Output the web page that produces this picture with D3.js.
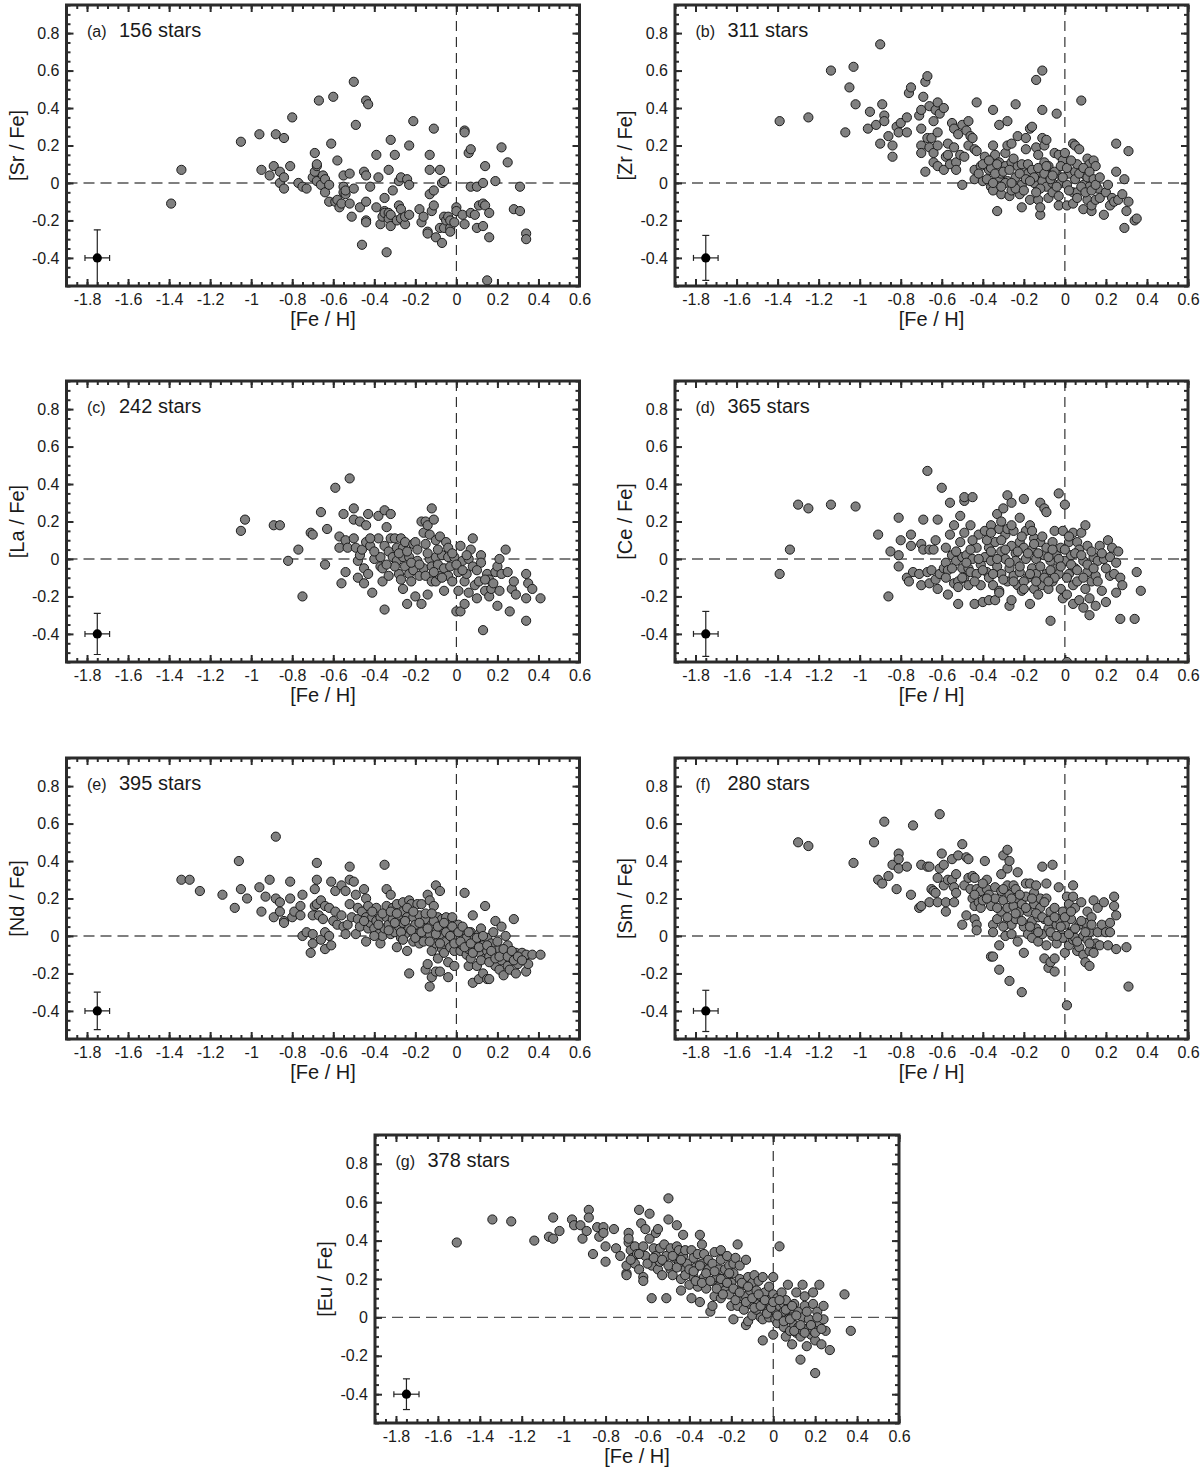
<!DOCTYPE html>
<html><head><meta charset="utf-8">
<script src="https://cdn.jsdelivr.net/npm/d3@7"></script>
<style>
body{margin:0;background:#fff;}
text{font-family:"Liberation Sans",Arial,Helvetica,sans-serif;fill:#1a1a1a;}
</style></head><body>
<script>
// ---------------- data ----------------
const xTickValues = [-1.8,-1.6,-1.4,-1.2,-1,-0.8,-0.6,-0.4,-0.2,0,0.2,0.4,0.6];
const yTickValues = [-0.4,-0.2,0,0.2,0.4,0.6,0.8];
const panelLetters = ["a","b","c","d","e","f","g"];
const elements = ["Sr","Zr","La","Ce","Nd","Sm","Eu"];
const starCounts = [156,311,242,365,395,280,378];
const errX = [0.06,0.06,0.06,0.06,0.06,0.06,0.06];
const errY = [0.15,0.12,0.11,0.12,0.10,0.11,0.08];

const srData = [[-1.39,-0.11],[-1.34,0.07],[-1.05,0.22],[-0.96,0.26],[-0.95,0.07],[-0.91,0.04],[-0.89,0.09],[-0.88,0.26],[-0.86,0.06],[-0.84,0.24],[-0.86,0.0],[-0.84,0.03],[-0.84,-0.03],[-0.81,0.09],[-0.80,0.35],[-0.77,0.0],[-0.75,-0.02],[-0.73,-0.03],[-0.70,0.03],[-0.69,0.16],[-0.69,0.06],[-0.68,0.09],[-0.68,0.10],[-0.67,0.44],[-0.68,0.01],[-0.66,-0.01],[-0.65,0.04],[-0.64,0.02],[-0.64,-0.05],[-0.62,-0.01],[-0.62,-0.10],[-0.61,0.21],[-0.60,0.46],[-0.59,-0.10],[-0.58,0.12],[-0.58,-0.09],[-0.57,-0.13],[-0.56,-0.11],[-0.55,0.04],[-0.55,-0.02],[-0.55,-0.05],[-0.54,-0.06],[-0.54,-0.04],[-0.52,0.05],[-0.52,-0.11],[-0.51,-0.18],[-0.50,0.54],[-0.50,-0.03],[-0.49,0.31],[-0.47,-0.13],[-0.46,-0.33],[-0.45,0.06],[-0.44,0.44],[-0.44,0.04],[-0.44,-0.10],[-0.44,-0.20],[-0.44,-0.21],[-0.43,0.42],[-0.42,-0.02],[-0.39,0.15],[-0.39,-0.13],[-0.38,0.03],[-0.37,-0.22],[-0.36,-0.18],[-0.35,-0.08],[-0.35,-0.15],[-0.34,-0.37],[-0.35,-0.16],[-0.33,0.07],[-0.33,-0.16],[-0.33,-0.19],[-0.32,0.23],[-0.32,-0.23],[-0.32,-0.17],[-0.31,-0.04],[-0.30,0.15],[-0.29,-0.20],[-0.28,0.01],[-0.28,-0.12],[-0.27,0.03],[-0.27,-0.14],[-0.27,-0.19],[-0.25,-0.22],[-0.25,-0.18],[-0.24,0.02],[-0.23,0.20],[-0.23,-0.01],[-0.23,-0.17],[-0.21,0.33],[-0.18,-0.14],[-0.17,-0.21],[-0.16,-0.18],[-0.14,-0.26],[-0.14,-0.27],[-0.13,0.15],[-0.13,0.07],[-0.13,-0.06],[-0.12,-0.15],[-0.11,0.29],[-0.11,-0.04],[-0.11,-0.12],[-0.10,-0.29],[-0.08,-0.24],[-0.08,0.07],[-0.07,-0.32],[-0.07,0.0],[-0.06,-0.18],[-0.06,0.01],[-0.06,-0.24],[-0.05,-0.20],[-0.04,-0.18],[-0.03,-0.24],[-0.03,-0.26],[-0.03,-0.20],[-0.01,-0.21],[0.0,-0.13],[0.0,-0.15],[0.03,-0.17],[0.04,0.28],[0.04,0.27],[0.04,-0.22],[0.06,0.16],[0.07,0.18],[0.07,-0.02],[0.07,-0.16],[0.10,-0.02],[0.09,-0.17],[0.10,-0.24],[0.11,-0.12],[0.13,-0.11],[0.13,0.0],[0.13,-0.23],[0.14,0.09],[0.14,-0.12],[0.15,-0.52],[0.16,-0.16],[0.16,-0.29],[0.19,0.01],[0.22,0.19],[0.25,0.11],[0.28,-0.14],[0.31,-0.02],[0.31,-0.15],[0.34,-0.27],[0.34,-0.30]];

const zrData = [[-1.39,0.33],[-1.25,0.35],[-1.14,0.60],[-1.07,0.27],[-1.05,0.51],[-1.03,0.62],[-1.02,0.42],[-0.96,0.29],[-0.95,0.38],[-0.92,0.31],[-0.90,0.74],[-0.90,0.21],[-0.89,0.42],[-0.88,0.36],[-0.88,0.33],[-0.86,0.25],[-0.84,0.20],[-0.84,0.14],[-0.82,0.30],[-0.81,0.27],[-0.80,0.32],[-0.77,0.35],[-0.77,0.27],[-0.76,0.48],[-0.75,0.51],[-0.71,0.36],[-0.70,0.39],[-0.70,0.29],[-0.70,0.20],[-0.70,0.16],[-0.69,0.46],[-0.68,0.54],[-0.68,0.06],[-0.67,0.57],[-0.66,0.41],[-0.67,0.24],[-0.65,0.24],[-0.66,0.19],[-0.64,0.33],[-0.64,0.16],[-0.64,0.11],[-0.63,0.39],[-0.62,0.43],[-0.62,0.27],[-0.62,0.20],[-0.62,0.09],[-0.61,0.37],[-0.59,0.40],[-0.59,0.07],[-0.58,0.14],[-0.57,0.21],[-0.57,0.15],[-0.56,0.10],[-0.55,0.32],[-0.54,0.29],[-0.54,0.19],[-0.53,0.11],[-0.53,0.07],[-0.52,0.26],[-0.51,0.15],[-0.50,0.31],[-0.50,-0.01],[-0.49,0.14],[-0.48,0.28],[-0.47,0.33],[-0.46,0.25],[-0.47,0.20],[-0.45,0.24],[-0.44,0.18],[-0.44,0.07],[-0.44,0.02],[-0.43,0.43],[-0.43,0.17],[-0.41,0.09],[-0.40,0.01],[-0.39,0.14],[-0.37,0.07],[-0.36,0.08],[-0.36,-0.02],[-0.35,0.39],[-0.35,0.20],[-0.35,-0.04],[-0.34,0.15],[-0.33,-0.15],[-0.32,0.31],[-0.32,0.11],[-0.32,0.03],[-0.31,0.05],[-0.31,-0.06],[-0.29,0.16],[-0.29,0.09],[-0.28,0.20],[-0.28,0.33],[-0.28,0.01],[-0.27,-0.07],[-0.26,0.11],[-0.26,0.21],[-0.26,-0.04],[-0.24,0.42],[-0.24,0.03],[-0.23,0.09],[-0.23,0.25],[-0.22,-0.06],[-0.21,-0.01],[-0.21,-0.13],[-0.20,0.06],[-0.19,0.24],[-0.19,0.18],[-0.18,0.05],[-0.17,-0.09],[-0.17,0.29],[-0.16,0.30],[-0.15,0.00],[-0.14,0.55],[-0.14,0.19],[-0.14,0.05],[-0.13,-0.09],[-0.13,0.15],[-0.12,-0.17],[-0.12,-0.13],[-0.11,0.01],[-0.11,0.39],[-0.11,0.60],[-0.11,0.24],[-0.10,0.11],[-0.10,0.20],[-0.09,0.23],[-0.09,-0.02],[-0.08,-0.08],[-0.08,0.04],[-0.08,0.09],[-0.06,0.00],[-0.06,-0.05],[-0.05,0.16],[-0.04,0.37],[-0.04,0.05],[-0.03,-0.12],[-0.03,-0.07],[-0.03,0.15],[-0.02,0.00],[-0.01,0.12],[0.0,0.16],[0.01,-0.01],[0.01,-0.12],[0.02,0.05],[0.04,-0.11],[0.04,0.21],[0.04,-0.05],[0.05,0.20],[0.05,0.06],[0.06,0.10],[0.07,0.18],[0.08,0.44],[0.06,-0.05],[0.09,-0.14],[0.09,-0.01],[0.10,0.04],[0.11,-0.09],[0.11,0.13],[0.12,0.10],[0.12,-0.02],[0.13,-0.15],[0.13,-0.12],[0.14,0.12],[0.15,0.09],[0.15,-0.09],[0.16,-0.03],[0.17,-0.08],[0.19,-0.17],[0.20,-0.05],[0.21,-0.01],[0.22,-0.12],[0.23,-0.08],[0.24,-0.10],[0.25,0.21],[0.25,0.06],[0.26,-0.09],[0.28,-0.06],[0.29,-0.24],[0.29,0.02],[0.30,-0.15],[0.31,-0.10],[0.31,0.17],[0.34,-0.20],[0.35,-0.19],
[-0.42,0.05],[-0.40,0.10],[-0.38,0.02],[-0.37,0.12],[-0.34,0.05],[-0.33,0.10],[-0.30,0.06],[-0.29,0.00],[-0.27,0.07],[-0.25,0.13],[-0.24,-0.03],[-0.22,0.05],[-0.21,0.10],[-0.19,0.02],[-0.18,0.10],[-0.16,0.07],[-0.15,0.03],[-0.13,0.08],[-0.12,-0.03],[-0.10,0.05],[-0.09,0.09],[-0.07,0.02],[-0.05,0.06],[-0.04,-0.02],[-0.02,0.09],[-0.01,0.03],[0.01,0.08],[0.02,-0.04],[0.03,0.12],[0.05,0.02],[0.06,-0.08],[0.07,0.05],[0.08,-0.02],[0.09,0.08],[0.10,-0.05],[0.11,0.03],[0.12,0.06],[0.13,-0.04],[0.14,0.02],[0.15,-0.01],[0.17,0.03],[-0.35,0.00],[-0.31,-0.02],[-0.26,0.00],[-0.20,-0.04],[-0.17,0.01],[-0.14,-0.05],[-0.06,0.04]];

const laData = [[-1.05,0.15],[-1.03,0.21],[-0.89,0.18],[-0.86,0.18],[-0.82,-0.01],[-0.77,0.05],[-0.75,-0.20],[-0.71,0.14],[-0.70,0.13],[-0.66,0.25],[-0.64,-0.03],[-0.63,0.16],[-0.59,0.38],[-0.57,0.12],[-0.57,0.06],[-0.56,-0.13],[-0.55,0.24],[-0.54,-0.07],[-0.54,0.10],[-0.53,0.06],[-0.52,0.43],[-0.50,0.27],[-0.50,0.21],[-0.50,0.11],[-0.49,0.06],[-0.48,-0.01],[-0.48,-0.10],[-0.47,0.20],[-0.47,0.02],[-0.46,0.05],[-0.45,-0.05],[-0.45,-0.13],[-0.44,0.18],[-0.44,0.09],[-0.43,-0.08],[-0.43,0.24],[-0.42,0.07],[-0.41,-0.18],[-0.40,0.00],[-0.38,0.23],[-0.38,0.11],[-0.37,0.01],[-0.37,-0.04],[-0.36,-0.12],[-0.35,-0.27],[-0.35,0.26],[-0.34,0.17],[-0.35,0.07],[-0.36,-0.05],[-0.33,0.04],[-0.32,0.11],[-0.32,0.24],[-0.33,-0.09],[-0.31,0.01],[-0.30,0.11],[-0.29,0.06],[-0.29,-0.01],[-0.28,-0.08],[-0.27,0.11],[-0.27,-0.11],[-0.26,0.01],[-0.26,0.06],[-0.26,-0.16],[-0.25,0.09],[-0.25,-0.04],[-0.24,-0.24],[-0.23,-0.08],[-0.23,0.01],[-0.22,-0.12],[-0.21,0.08],[-0.21,-0.06],[-0.20,0.09],[-0.20,-0.20],[-0.19,-0.01],[-0.18,-0.09],[-0.17,0.20],[-0.17,-0.24],[-0.16,-0.05],[-0.16,0.14],[-0.15,0.20],[-0.15,0.08],[-0.15,-0.09],[-0.14,-0.19],[-0.14,0.18],[-0.13,0.13],[-0.13,0.00],[-0.12,0.27],[-0.12,-0.12],[-0.12,-0.04],[-0.11,0.21],[-0.10,0.01],[-0.10,0.10],[-0.10,-0.12],[-0.09,-0.03],[-0.08,-0.09],[-0.08,0.12],[-0.07,0.02],[-0.06,-0.05],[-0.06,-0.17],[-0.05,0.09],[-0.04,0.01],[-0.04,-0.09],[-0.04,0.06],[-0.03,-0.04],[-0.02,-0.12],[-0.01,0.01],[0.0,-0.28],[0.01,-0.17],[0.01,-0.07],[0.02,0.07],[0.02,-0.28],[0.03,-0.01],[0.04,-0.12],[0.04,-0.24],[0.05,-0.08],[0.06,0.00],[0.06,-0.18],[0.07,0.05],[0.08,0.11],[0.08,-0.04],[0.09,-0.14],[0.10,-0.21],[0.11,-0.12],[0.12,0.02],[0.12,-0.02],[0.13,-0.38],[0.14,-0.17],[0.15,-0.08],[0.16,-0.20],[0.16,-0.11],[0.17,-0.16],[0.19,-0.07],[0.20,-0.04],[0.20,-0.25],[0.21,-0.17],[0.21,0.00],[0.22,-0.08],[0.24,0.05],[0.25,-0.07],[0.26,-0.28],[0.27,-0.16],[0.28,-0.12],[0.29,-0.19],[0.34,-0.08],[0.34,-0.21],[0.34,-0.33],[0.35,-0.13],[0.37,-0.16],[0.41,-0.21],
[-0.30,-0.04],[-0.28,0.03],[-0.24,0.04],[-0.22,-0.02],[-0.19,0.05],[-0.18,-0.03],[-0.14,0.03],[-0.11,-0.07],[-0.09,0.05],[-0.07,-0.10],[-0.02,0.03],[0.00,-0.03],[0.03,-0.06],[0.05,0.02],[0.10,-0.06],[0.14,-0.11],[0.18,-0.13],[-0.40,0.04],[-0.42,0.11],[-0.34,-0.03]];

const ceData = [[-1.39,-0.08],[-1.34,0.05],[-1.30,0.29],[-1.25,0.27],[-1.14,0.29],[-1.02,0.28],[-0.91,0.13],[-0.86,-0.20],[-0.85,0.04],[-0.81,0.22],[-0.81,0.02],[-0.81,-0.04],[-0.80,0.10],[-0.77,-0.10],[-0.76,-0.12],[-0.75,0.07],[-0.75,0.13],[-0.74,-0.07],[-0.71,-0.08],[-0.70,-0.14],[-0.70,0.08],[-0.69,0.05],[-0.69,0.21],[-0.67,0.47],[-0.67,-0.07],[-0.66,0.05],[-0.65,-0.06],[-0.66,-0.13],[-0.64,0.05],[-0.63,0.10],[-0.63,-0.11],[-0.62,0.21],[-0.62,-0.16],[-0.61,-0.08],[-0.60,0.38],[-0.59,-0.05],[-0.58,0.06],[-0.58,-0.02],[-0.57,-0.19],[-0.57,-0.06],[-0.56,0.30],[-0.56,0.13],[-0.55,0.02],[-0.54,-0.13],[-0.54,0.18],[-0.53,-0.01],[-0.52,-0.12],[-0.52,-0.24],[-0.51,0.09],[-0.51,0.23],[-0.50,0.01],[-0.50,-0.05],[-0.49,0.14],[-0.49,0.31],[-0.49,0.33],[-0.49,-0.10],[-0.48,0.02],[-0.47,-0.05],[-0.47,-0.14],[-0.46,0.18],[-0.46,-0.07],[-0.45,0.33],[-0.45,0.00],[-0.44,-0.24],[-0.43,-0.08],[-0.43,0.06],[-0.42,0.13],[-0.41,-0.03],[-0.41,-0.14],[-0.40,-0.23],[-0.39,0.01],[-0.39,0.15],[-0.38,-0.07],[-0.37,-0.10],[-0.37,-0.22],[-0.37,0.06],[-0.36,0.18],[-0.36,-0.01],[-0.35,-0.14],[-0.34,-0.22],[-0.34,0.09],[-0.33,0.24],[-0.33,-0.04],[-0.32,0.16],[-0.32,-0.17],[-0.31,0.04],[-0.31,0.20],[-0.31,-0.08],[-0.30,0.27],[-0.29,0.13],[-0.29,0.00],[-0.28,-0.12],[-0.28,0.16],[-0.28,0.34],[-0.27,-0.25],[-0.27,-0.05],[-0.26,0.07],[-0.26,0.30],[-0.26,-0.22],[-0.25,-0.09],[-0.25,0.15],[-0.24,0.03],[-0.24,-0.01],[-0.23,-0.14],[-0.22,0.22],[-0.22,0.09],[-0.22,-0.07],[-0.21,-0.17],[-0.20,0.32],[-0.20,0.06],[-0.19,0.15],[-0.19,0.00],[-0.18,-0.10],[-0.17,-0.24],[-0.17,0.18],[-0.16,-0.05],[-0.16,0.05],[-0.15,-0.16],[-0.15,0.11],[-0.14,-0.08],[-0.14,0.00],[-0.13,-0.19],[-0.12,0.09],[-0.12,0.30],[-0.11,-0.14],[-0.10,0.27],[-0.10,0.02],[-0.09,0.25],[-0.09,-0.08],[-0.09,0.06],[-0.08,-0.16],[-0.07,-0.33],[-0.07,-0.01],[-0.06,0.09],[-0.06,-0.12],[-0.05,0.15],[-0.04,-0.05],[-0.04,0.02],[-0.03,0.35],[-0.03,-0.08],[-0.02,0.06],[-0.02,-0.16],[-0.01,-0.21],[-0.01,0.15],[0.0,0.29],[0.0,-0.01],[0.01,-0.19],[0.01,-0.55],[0.02,-0.08],[0.02,0.09],[0.03,0.02],[0.04,-0.24],[0.04,-0.14],[0.04,0.14],[0.05,-0.05],[0.06,0.09],[0.06,-0.12],[0.07,-0.22],[0.07,0.05],[0.08,0.14],[0.09,-0.01],[0.09,-0.26],[0.10,-0.16],[0.10,0.18],[0.11,-0.07],[0.11,0.07],[0.12,-0.21],[0.12,-0.30],[0.13,-0.12],[0.14,0.01],[0.15,-0.09],[0.15,-0.25],[0.16,-0.01],[0.17,0.07],[0.18,-0.17],[0.19,0.00],[0.20,-0.23],[0.21,0.10],[0.22,-0.09],[0.22,0.01],[0.23,0.06],[0.24,-0.08],[0.25,-0.18],[0.25,-0.02],[0.26,0.04],[0.27,-0.32],[0.27,-0.10],[0.28,-0.14],[0.34,-0.32],[0.35,-0.07],[0.37,-0.17],
[-0.58,-0.10],[-0.55,-0.05],[-0.53,0.04],[-0.50,-0.10],[-0.48,-0.02],[-0.46,0.05],[-0.44,-0.12],[-0.42,0.00],[-0.40,-0.06],[-0.38,0.10],[-0.36,0.04],[-0.35,-0.08],[-0.33,0.00],[-0.31,0.10],[-0.30,-0.11],[-0.29,0.05],[-0.27,-0.02],[-0.26,0.18],[-0.25,-0.12],[-0.23,0.04],[-0.22,-0.04],[-0.21,0.12],[-0.20,-0.12],[-0.18,0.03],[-0.17,-0.08],[-0.15,0.08],[-0.14,-0.12],[-0.13,0.03],[-0.12,-0.04],[-0.11,0.12],[-0.10,-0.10],[-0.08,0.01],[-0.07,-0.06],[-0.06,0.05],[-0.05,-0.10],[-0.03,0.00],[-0.02,-0.04],[0.00,0.05],[0.01,-0.10],[0.03,-0.03],[0.05,0.03],[0.06,-0.06],[0.08,0.02],[0.09,-0.10],[0.11,-0.03],[0.13,0.04],[0.14,-0.05],[0.16,-0.12],[0.18,0.03],[0.20,-0.05],[-0.32,-0.18],[-0.20,-0.16],[-0.08,-0.12],[-0.45,0.10],[-0.52,-0.15],[-0.36,0.14],[-0.16,0.15],[0.02,0.12]];

const ndData = [[-1.34,0.30],[-1.30,0.30],[-1.25,0.24],[-1.14,0.22],[-1.08,0.15],[-1.06,0.40],[-1.05,0.25],[-1.02,0.20],[-0.96,0.26],[-0.95,0.13],[-0.93,0.21],[-0.91,0.30],[-0.89,0.10],[-0.88,0.53],[-0.88,0.20],[-0.86,0.18],[-0.86,0.13],[-0.84,0.08],[-0.84,0.07],[-0.81,0.20],[-0.81,0.29],[-0.80,0.10],[-0.79,0.13],[-0.76,0.11],[-0.76,0.16],[-0.75,0.22],[-0.75,0.00],[-0.73,0.02],[-0.71,-0.09],[-0.70,0.01],[-0.70,-0.04],[-0.70,0.11],[-0.69,0.16],[-0.69,0.25],[-0.68,0.17],[-0.68,0.39],[-0.68,0.30],[-0.67,0.11],[-0.66,0.19],[-0.66,-0.02],[-0.65,0.09],[-0.64,0.02],[-0.64,0.16],[-0.64,-0.07],[-0.62,0.15],[-0.62,0.00],[-0.61,-0.05],[-0.61,0.29],[-0.60,0.08],[-0.59,0.24],[-0.59,0.13],[-0.58,0.06],[-0.56,0.27],[-0.56,0.11],[-0.55,0.05],[-0.54,0.24],[-0.54,0.01],[-0.53,0.06],[-0.52,0.17],[-0.52,0.37],[-0.52,0.30],[-0.51,0.10],[-0.50,0.29],[-0.49,0.22],[-0.49,0.01],[-0.48,0.15],[-0.48,0.09],[-0.47,0.05],[-0.46,0.13],[-0.45,0.25],[-0.44,0.20],[-0.44,-0.03],[-0.44,0.10],[-0.43,0.16],[-0.43,0.04],[-0.42,0.07],[-0.41,0.10],[-0.40,0.04],[-0.39,0.15],[-0.39,0.08],[-0.38,0.01],[-0.37,-0.04],[-0.37,0.10],[-0.36,0.00],[-0.35,0.04],[-0.35,0.38],[-0.34,0.16],[-0.34,0.25],[-0.32,0.22],[-0.34,0.10],[-0.33,0.06],[-0.32,0.01],[-0.31,0.15],[-0.31,0.09],[-0.30,0.02],[-0.29,-0.06],[-0.29,0.17],[-0.28,0.11],[-0.28,0.05],[-0.27,-0.01],[-0.26,0.18],[-0.26,0.07],[-0.26,0.13],[-0.25,0.01],[-0.24,-0.08],[-0.24,0.10],[-0.23,0.19],[-0.23,-0.20],[-0.23,0.04],[-0.22,0.17],[-0.21,-0.03],[-0.21,0.10],[-0.20,0.06],[-0.19,0.17],[-0.19,0.01],[-0.18,-0.04],[-0.18,0.11],[-0.17,0.17],[-0.16,0.04],[-0.16,-0.03],[-0.15,-0.18],[-0.15,0.09],[-0.14,0.22],[-0.14,-0.15],[-0.13,0.01],[-0.13,-0.27],[-0.13,0.19],[-0.12,-0.08],[-0.12,-0.22],[-0.12,0.06],[-0.11,0.16],[-0.10,-0.04],[-0.10,0.27],[-0.10,-0.19],[-0.09,0.10],[-0.09,-0.12],[-0.08,0.24],[-0.08,0.01],[-0.08,-0.19],[-0.07,-0.07],[-0.07,0.09],[-0.06,0.04],[-0.06,-0.09],[-0.05,-0.03],[-0.05,0.10],[-0.04,-0.22],[-0.04,0.01],[-0.04,-0.14],[-0.03,-0.06],[-0.03,0.06],[-0.02,0.10],[-0.02,-0.01],[-0.01,-0.16],[-0.01,-0.08],[0.0,0.04],[0.01,-0.04],[0.01,0.06],[0.02,-0.08],[0.03,0.01],[0.03,-0.05],[0.04,0.03],[0.04,0.23],[0.05,-0.10],[0.05,-0.01],[0.06,-0.16],[0.06,-0.07],[0.07,0.02],[0.07,-0.12],[0.08,0.11],[0.08,-0.25],[0.09,-0.01],[0.09,-0.08],[0.10,-0.04],[0.10,-0.16],[0.11,-0.23],[0.11,0.01],[0.12,-0.10],[0.12,0.04],[0.13,-0.05],[0.13,-0.20],[0.14,0.16],[0.14,-0.12],[0.15,-0.23],[0.15,-0.01],[0.15,-0.08],[0.16,-0.23],[0.16,-0.11],[0.17,-0.04],[0.18,0.02],[0.19,0.08],[0.19,-0.16],[0.20,-0.10],[0.21,-0.18],[0.21,-0.07],[0.22,0.05],[0.22,-0.13],[0.23,-0.21],[0.24,0.00],[0.24,-0.08],[0.25,-0.16],[0.25,-0.05],[0.26,-0.18],[0.27,-0.12],[0.28,0.09],[0.29,-0.09],[0.29,-0.20],[0.30,-0.15],[0.32,-0.09],[0.34,-0.10],[0.34,-0.19],[0.35,-0.15],[0.37,-0.10],[0.41,-0.10],
[-0.45,0.08],[-0.41,0.13],[-0.38,0.06],[-0.36,0.12],[-0.33,0.03],[-0.32,0.13],[-0.30,0.07],[-0.29,0.12],[-0.27,0.02],[-0.25,0.08],[-0.24,0.15],[-0.22,0.03],[-0.21,0.13],[-0.20,-0.01],[-0.18,0.07],[-0.17,0.02],[-0.15,0.12],[-0.14,0.04],[-0.13,-0.03],[-0.11,0.08],[-0.10,0.01],[-0.09,0.05],[-0.08,-0.04],[-0.06,0.07],[-0.05,0.02],[-0.03,0.00],[-0.02,0.05],[-0.01,-0.04],[0.01,0.02],[0.02,-0.03],[0.03,0.05],[0.04,-0.06],[0.06,0.02],[0.07,-0.04],[0.08,-0.09],[0.10,-0.01],[0.11,-0.06],[0.12,-0.13],[0.13,0.00],[0.15,-0.05],[0.16,-0.14],[0.17,-0.08],[0.19,-0.12],[0.20,-0.03],[0.21,-0.11],[0.23,-0.07],[0.25,-0.11],[0.27,-0.08],[0.28,-0.13],[0.30,-0.11],[0.32,-0.13],[-0.40,0.00],[-0.26,-0.02],[-0.12,0.12]];

const smData = [[-1.30,0.50],[-1.25,0.48],[-1.03,0.39],[-0.93,0.50],[-0.91,0.30],[-0.89,0.28],[-0.88,0.61],[-0.86,0.32],[-0.84,0.38],[-0.82,0.25],[-0.81,0.44],[-0.81,0.41],[-0.81,0.36],[-0.77,0.37],[-0.75,0.22],[-0.74,0.59],[-0.71,0.15],[-0.70,0.16],[-0.70,0.38],[-0.67,0.37],[-0.66,0.18],[-0.66,0.37],[-0.65,0.25],[-0.64,0.24],[-0.63,0.23],[-0.62,0.31],[-0.62,0.18],[-0.61,0.65],[-0.61,0.36],[-0.60,0.44],[-0.59,0.38],[-0.59,0.27],[-0.58,0.13],[-0.58,0.18],[-0.57,0.30],[-0.55,0.30],[-0.55,0.41],[-0.54,0.26],[-0.54,0.18],[-0.53,0.33],[-0.53,0.23],[-0.52,0.43],[-0.50,0.06],[-0.50,0.49],[-0.49,0.27],[-0.48,0.42],[-0.48,0.11],[-0.47,0.41],[-0.47,0.31],[-0.46,0.25],[-0.45,0.32],[-0.45,0.20],[-0.44,0.16],[-0.44,0.31],[-0.44,0.09],[-0.43,0.06],[-0.43,0.03],[-0.43,0.25],[-0.42,0.18],[-0.41,0.24],[-0.41,0.15],[-0.40,0.19],[-0.39,0.40],[-0.38,0.30],[-0.38,0.25],[-0.37,0.22],[-0.36,-0.11],[-0.35,-0.11],[-0.36,0.16],[-0.35,0.06],[-0.35,0.02],[-0.34,0.20],[-0.34,0.26],[-0.33,0.09],[-0.32,-0.05],[-0.32,-0.18],[-0.31,0.13],[-0.31,0.33],[-0.31,0.24],[-0.30,0.43],[-0.30,0.19],[-0.29,0.06],[-0.29,0.00],[-0.28,0.27],[-0.28,0.46],[-0.28,0.36],[-0.28,0.15],[-0.27,-0.24],[-0.27,0.40],[-0.27,0.22],[-0.26,0.06],[-0.26,0.01],[-0.25,0.27],[-0.25,0.16],[-0.24,0.09],[-0.24,0.25],[-0.23,-0.03],[-0.23,0.20],[-0.23,0.34],[-0.22,0.13],[-0.21,-0.30],[-0.21,0.17],[-0.20,-0.09],[-0.20,0.05],[-0.19,0.28],[-0.19,0.21],[-0.18,0.01],[-0.18,0.13],[-0.17,0.28],[-0.16,0.08],[-0.16,-0.01],[-0.15,0.17],[-0.15,0.23],[-0.14,0.04],[-0.14,0.27],[-0.13,0.10],[-0.13,-0.03],[-0.12,0.20],[-0.12,0.15],[-0.11,0.37],[-0.11,0.01],[-0.10,-0.12],[-0.10,0.09],[-0.09,0.20],[-0.09,-0.05],[-0.09,0.28],[-0.08,-0.17],[-0.08,0.04],[-0.07,-0.14],[-0.07,0.13],[-0.06,-0.00],[-0.06,0.38],[-0.05,-0.19],[-0.05,-0.12],[-0.05,0.15],[-0.04,-0.04],[-0.04,0.06],[-0.03,0.26],[-0.03,0.09],[-0.02,0.01],[-0.01,-0.01],[-0.01,0.13],[0.0,0.06],[0.00,-0.09],[0.01,0.21],[0.01,-0.37],[0.02,-0.05],[0.02,0.17],[0.03,0.02],[0.03,0.09],[0.04,-0.02],[0.04,0.27],[0.04,0.21],[0.05,0.15],[0.05,-0.01],[0.06,-0.08],[0.07,0.06],[0.07,-0.06],[0.08,0.18],[0.09,0.00],[0.09,-0.10],[0.10,-0.14],[0.10,0.07],[0.11,-0.02],[0.11,0.13],[0.12,-0.16],[0.12,-0.08],[0.12,0.02],[0.13,0.10],[0.14,0.19],[0.14,-0.09],[0.15,-0.04],[0.16,0.02],[0.16,0.15],[0.17,-0.05],[0.18,0.06],[0.19,0.18],[0.20,0.02],[0.21,-0.05],[0.22,0.07],[0.22,0.02],[0.24,0.21],[0.24,0.16],[0.25,-0.07],[0.25,0.11],[0.30,-0.06],[0.31,-0.27],
[-0.33,0.15],[-0.30,0.25],[-0.28,0.10],[-0.26,0.20],[-0.24,0.12],[-0.22,0.22],[-0.21,0.08],[-0.19,0.15],[-0.17,0.05],[-0.16,0.20],[-0.14,0.12],[-0.13,0.02],[-0.11,0.10],[-0.10,0.18],[-0.08,0.08],[-0.07,0.02],[-0.05,0.10],[-0.04,0.00],[-0.02,0.05],[0.00,0.10],[0.02,0.01],[0.03,0.13],[0.05,0.04],[0.06,-0.03],[0.08,0.08],[0.10,0.02],[0.12,-0.04],[0.13,0.06],[-0.38,0.20],[-0.40,0.28],[-0.44,0.22],[-0.30,0.05]];

const euData = [[-1.51,0.39],[-1.34,0.51],[-1.25,0.50],[-1.14,0.40],[-1.07,0.42],[-1.05,0.41],[-1.05,0.52],[-1.02,0.45],[-0.96,0.51],[-0.95,0.48],[-0.92,0.48],[-0.91,0.41],[-0.89,0.45],[-0.88,0.56],[-0.88,0.52],[-0.86,0.33],[-0.84,0.47],[-0.83,0.42],[-0.81,0.47],[-0.81,0.44],[-0.80,0.37],[-0.80,0.29],[-0.76,0.46],[-0.75,0.36],[-0.73,0.32],[-0.70,0.23],[-0.69,0.39],[-0.69,0.44],[-0.70,0.22],[-0.69,0.41],[-0.70,0.27],[-0.68,0.35],[-0.67,0.31],[-0.66,0.37],[-0.66,0.28],[-0.65,0.33],[-0.64,0.56],[-0.64,0.25],[-0.63,0.49],[-0.62,0.37],[-0.62,0.21],[-0.62,0.19],[-0.61,0.46],[-0.61,0.32],[-0.59,0.54],[-0.59,0.41],[-0.58,0.27],[-0.58,0.10],[-0.57,0.36],[-0.56,0.44],[-0.56,0.32],[-0.55,0.46],[-0.55,0.25],[-0.54,0.36],[-0.54,0.29],[-0.53,0.22],[-0.52,0.38],[-0.51,0.32],[-0.51,0.10],[-0.50,0.62],[-0.50,0.51],[-0.49,0.25],[-0.49,0.36],[-0.48,0.22],[-0.47,0.31],[-0.46,0.37],[-0.46,0.48],[-0.45,0.28],[-0.45,0.35],[-0.44,0.20],[-0.44,0.14],[-0.43,0.43],[-0.43,0.32],[-0.42,0.25],[-0.42,0.35],[-0.41,0.28],[-0.40,0.17],[-0.39,0.35],[-0.39,0.10],[-0.38,0.31],[-0.38,0.21],[-0.37,0.26],[-0.36,0.16],[-0.36,0.33],[-0.35,0.43],[-0.35,0.08],[-0.34,0.38],[-0.34,0.28],[-0.33,0.21],[-0.33,0.33],[-0.32,0.15],[-0.31,0.25],[-0.31,0.30],[-0.30,0.03],[-0.29,0.19],[-0.29,0.06],[-0.29,0.28],[-0.28,0.11],[-0.28,0.34],[-0.27,0.21],[-0.26,0.25],[-0.26,0.16],[-0.25,0.30],[-0.25,0.10],[-0.25,0.35],[-0.24,0.20],[-0.23,0.25],[-0.23,0.14],[-0.22,0.32],[-0.22,0.21],[-0.21,0.27],[-0.21,0.12],[-0.20,0.06],[-0.20,0.18],[-0.19,0.28],[-0.19,-0.01],[-0.19,0.23],[-0.18,0.31],[-0.17,0.38],[-0.17,0.14],[-0.17,0.06],[-0.16,0.20],[-0.16,0.27],[-0.15,0.11],[-0.14,0.17],[-0.14,0.04],[-0.13,-0.04],[-0.13,0.30],[-0.13,0.11],[-0.12,-0.02],[-0.12,0.21],[-0.11,0.07],[-0.11,0.14],[-0.10,0.01],[-0.10,0.18],[-0.09,0.10],[-0.09,0.22],[-0.08,0.04],[-0.08,0.14],[-0.07,0.07],[-0.07,0.19],[-0.06,0.00],[-0.06,0.11],[-0.05,-0.01],[-0.05,-0.12],[-0.05,0.21],[-0.04,0.06],[-0.04,0.13],[-0.03,0.03],[-0.02,0.09],[-0.02,0.16],[-0.02,0.00],[-0.01,0.07],[0.00,0.12],[0.00,0.21],[0.00,-0.09],[0.01,0.04],[0.01,-0.01],[0.02,0.10],[0.02,-0.03],[0.03,0.37],[0.03,0.06],[0.04,0.01],[0.04,0.13],[0.05,-0.05],[0.05,0.07],[0.05,0.03],[0.06,0.09],[0.06,-0.10],[0.07,-0.01],[0.07,0.17],[0.08,0.04],[0.08,-0.07],[0.09,-0.14],[0.09,0.00],[0.10,0.07],[0.10,-0.04],[0.11,0.13],[0.11,-0.08],[0.12,0.03],[0.12,-0.05],[0.13,-0.22],[0.13,-0.10],[0.14,0.17],[0.14,0.00],[0.14,-0.07],[0.15,0.11],[0.15,0.06],[0.16,-0.15],[0.16,-0.06],[0.17,-0.01],[0.18,-0.09],[0.19,0.13],[0.19,0.07],[0.19,-0.07],[0.20,-0.12],[0.20,-0.29],[0.20,-0.05],[0.21,0.03],[0.22,-0.01],[0.22,0.17],[0.22,-0.03],[0.23,-0.14],[0.24,0.06],[0.24,-0.01],[0.25,-0.07],[0.27,-0.17],[0.34,0.12],[0.37,-0.07],
[-0.68,0.30],[-0.64,0.33],[-0.60,0.28],[-0.57,0.31],[-0.53,0.30],[-0.50,0.27],[-0.48,0.32],[-0.46,0.26],[-0.44,0.30],[-0.42,0.22],[-0.40,0.25],[-0.38,0.24],[-0.37,0.19],[-0.35,0.27],[-0.34,0.18],[-0.32,0.23],[-0.30,0.19],[-0.28,0.24],[-0.27,0.15],[-0.25,0.20],[-0.24,0.12],[-0.22,0.18],[-0.21,0.23],[-0.19,0.15],[-0.18,0.09],[-0.16,0.13],[-0.15,0.18],[-0.13,0.08],[-0.12,0.16],[-0.10,0.10],[-0.09,0.05],[-0.07,0.12],[-0.06,0.06],[-0.04,0.09],[-0.03,0.02],[-0.01,0.05],[0.00,0.08],[0.02,0.01],[0.03,0.09],[0.05,-0.02],[0.06,0.04],[0.08,-0.01],[0.09,0.06],[0.10,-0.07],[0.11,0.01],[0.13,-0.04],[0.15,-0.08],[0.16,0.03],[0.18,-0.04],[0.20,-0.08],[0.21,0.00],[0.23,-0.06]];

const seriesData = [srData, zrData, laData, ceData, ndData, smData, euData];

// ---------------- layout ----------------
const frames = [
  {left:66.5, top:5,    w:513, h:281},
  {left:675,  top:5,    w:513, h:281},
  {left:66.5, top:381,  w:513, h:281},
  {left:675,  top:381,  w:513, h:281},
  {left:66.5, top:758,  w:513, h:281},
  {left:675,  top:758,  w:513, h:281},
  {left:375,  top:1135, w:524, h:288}
];
const xDomain = [-1.9, 0.6], yDomain = [-0.55, 0.95];
const ink = "#2b2b2b";
const fmt = v => String(Math.round(v*10)/10);
const xMinor = d3.range(-38, 13).map(i => Math.round(i*5)/100);
const yMinor = d3.range(-11, 20).map(i => Math.round(i*5)/100);

const svg = d3.select("body").append("svg").attr("width",1200).attr("height",1470);

frames.forEach((f, i) => {
  const g = svg.append("g").attr("transform", `translate(${f.left},${f.top})`);
  const x = d3.scaleLinear().domain(xDomain).range([0, f.w]);
  const y = d3.scaleLinear().domain(yDomain).range([f.h, 0]);

  g.append("clipPath").attr("id","clip"+i).append("rect").attr("width",f.w).attr("height",f.h);

  // dashed zero lines
  g.append("line").attr("x1",0).attr("x2",f.w).attr("y1",y(0)).attr("y2",y(0))
    .attr("stroke","#555").attr("stroke-width",1.4).attr("stroke-dasharray","11,6");
  g.append("line").attr("x1",x(0)).attr("x2",x(0)).attr("y1",0).attr("y2",f.h)
    .attr("stroke","#222").attr("stroke-width",1.1).attr("stroke-dasharray","10,6");

  // axes: major + minor ticks on all sides, inward
  const styleAxis = sel => {
    sel.select(".domain").remove();
    sel.selectAll(".tick line").attr("stroke", ink).attr("stroke-width", 2);
    sel.selectAll(".tick text").attr("fill","#1a1a1a").style("font-size","16px")
      .style("font-family",'"Liberation Sans",Arial,Helvetica,sans-serif');
  };
  g.append("g").attr("transform",`translate(0,${f.h})`)
    .call(d3.axisBottom(x).tickValues(xMinor).tickSize(-4).tickFormat("")).call(styleAxis);
  g.append("g").attr("transform",`translate(0,${f.h})`)
    .call(d3.axisBottom(x).tickValues(xTickValues).tickSize(-7).tickPadding(8).tickFormat(fmt)).call(styleAxis);
  g.append("g").call(d3.axisTop(x).tickValues(xMinor).tickSize(-4).tickFormat("")).call(styleAxis);
  g.append("g").call(d3.axisTop(x).tickValues(xTickValues).tickSize(-7).tickFormat("")).call(styleAxis);
  g.append("g").call(d3.axisLeft(y).tickValues(yMinor).tickSize(-4).tickFormat("")).call(styleAxis);
  g.append("g").call(d3.axisLeft(y).tickValues(yTickValues).tickSize(-7).tickPadding(7).tickFormat(fmt)).call(styleAxis);
  g.append("g").attr("transform",`translate(${f.w},0)`).call(d3.axisRight(y).tickValues(yMinor).tickSize(-4).tickFormat("")).call(styleAxis);
  g.append("g").attr("transform",`translate(${f.w},0)`).call(d3.axisRight(y).tickValues(yTickValues).tickSize(-7).tickFormat("")).call(styleAxis);

  // points
  g.append("g").attr("clip-path",`url(#clip${i})`).selectAll("circle")
    .data(seriesData[i]).join("circle")
    .attr("cx", d => x(d[0])).attr("cy", d => y(d[1])).attr("r", 4.6)
    .attr("fill","#808080").attr("stroke","#1c1c1c").attr("stroke-width",1);

  // error bar
  const ex = -1.75, ey = -0.4;
  const eb = g.append("g").attr("clip-path",`url(#clip${i})`).attr("stroke","#222").attr("stroke-width",1.2);
  eb.append("line").attr("x1",x(ex-errX[i])).attr("x2",x(ex+errX[i])).attr("y1",y(ey)).attr("y2",y(ey));
  eb.append("line").attr("x1",x(ex)).attr("x2",x(ex)).attr("y1",y(ey-errY[i])).attr("y2",y(ey+errY[i]));
  [ex-errX[i], ex+errX[i]].forEach(v => eb.append("line").attr("x1",x(v)).attr("x2",x(v)).attr("y1",y(ey)-3).attr("y2",y(ey)+3));
  [ey-errY[i], ey+errY[i]].forEach(v => eb.append("line").attr("x1",x(ex)-3.5).attr("x2",x(ex)+3.5).attr("y1",y(v)).attr("y2",y(v)));
  g.append("circle").attr("cx",x(ex)).attr("cy",y(ey)).attr("r",4.6).attr("fill","#000");

  // frame
  g.append("rect").attr("width",f.w).attr("height",f.h).attr("fill","none")
    .attr("stroke",ink).attr("stroke-width",3);

  // panel label
  g.append("text").attr("x",20.5).attr("y",32).style("font-size","16px").text(`(${panelLetters[i]})`);
  g.append("text").attr("x",52.5).attr("y",32).style("font-size","20px").text(`${starCounts[i]} stars`);

  // axis titles
  g.append("text").attr("x",f.w/2).attr("y",f.h+40).attr("text-anchor","middle")
    .style("font-size","20px").text("[Fe / H]");
  g.append("text").attr("transform",`translate(-43,${f.h/2}) rotate(-90)`).attr("text-anchor","middle")
    .style("font-size","20px").text(`[${elements[i]} / Fe]`);
});
</script>
</body></html>
